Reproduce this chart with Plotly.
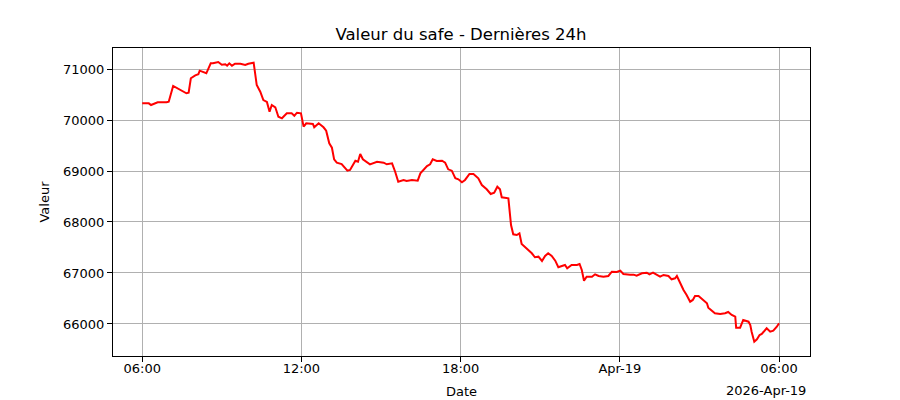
import plotly.graph_objects as go
import pandas as pd

start_time = "2026-04-18 06:00"
minutes = [0, 15, 20, 35, 55, 60, 70, 85, 100, 105, 110, 120, 127, 130, 145, 155, 160, 172, 180, 188,
           192, 197, 203, 210, 222, 233, 240, 252, 259, 267, 274, 282, 288, 293, 301, 308, 316, 327, 338, 344,
           350, 359, 365, 371, 376, 386, 389, 399, 410, 416, 423, 429, 434, 440, 451, 457, 464, 470, 482, 488,
           493, 499, 508, 515, 531, 546, 553, 565, 572, 579, 591, 598, 610, 623, 629, 636, 644, 651, 657, 666,
           678, 685, 692, 700, 708, 715, 723, 730, 740, 749, 760, 768, 779, 788, 796, 803, 809, 813, 828, 834,
           839, 847, 853, 858, 866, 873, 881, 888, 896, 904, 911, 918, 926, 934, 941, 949, 956, 961, 971, 983,
           989, 994, 999, 1005, 1017, 1024, 1032, 1043, 1054, 1062, 1073, 1081, 1088, 1103, 1111, 1118, 1130, 1141, 1147, 1155,
           1164, 1171, 1179, 1190, 1197, 1205, 1209, 1216, 1224, 1231, 1239, 1245, 1250, 1258, 1269, 1277, 1280, 1288, 1295, 1307,
           1318, 1325, 1333, 1341, 1343, 1352, 1359, 1371, 1375, 1378, 1384, 1390, 1396, 1401, 1408, 1412, 1420, 1427, 1435, 1440]
values = [70327, 70327, 70294, 70347, 70347, 70359, 70667, 70602, 70524, 70535, 70818, 70876, 70896, 70967, 70916, 71112, 71112, 71137, 71084, 71092,
          71065, 71112, 71065, 71104, 71104, 71078, 71104, 71124, 70686, 70555, 70392, 70353, 70163, 70294, 70249, 70065, 70033, 70131, 70131, 70084,
          70143, 70131, 69869, 69935, 69935, 69922, 69857, 69935, 69857, 69790, 69543, 69457, 69229, 69163, 69137, 69084, 69006, 69020, 69202, 69182,
          69333, 69229, 69182, 69131, 69182, 69163, 69131, 69151, 68986, 68790, 68824, 68804, 68824, 68810, 68955, 69020, 69098, 69131, 69229, 69196,
          69202, 69163, 69033, 69006, 68857, 68837, 68778, 68824, 68941, 68941, 68857, 68725, 68641, 68549, 68575, 68692, 68641, 68484, 68465, 67941,
          67759, 67745, 67778, 67569, 67504, 67437, 67386, 67308, 67320, 67235, 67333, 67386, 67333, 67241, 67112, 67137, 67157, 67092, 67157, 67157,
          67176, 67059, 66849, 66927, 66927, 66974, 66941, 66927, 66941, 67025, 67020, 67045, 66980, 66967, 66967, 66947, 66994, 67006, 66974, 67006,
          66967, 66927, 66961, 66941, 66876, 66896, 66941, 66810, 66667, 66569, 66437, 66471, 66549, 66549, 66457, 66406, 66320, 66261, 66210, 66196,
          66210, 66235, 66176, 66143, 65927, 65927, 66078, 66045, 65980, 65849, 65653, 65700, 65784, 65804, 65882, 65916, 65849, 65869, 65947, 66014]

x_tick_vals = ["2026-04-18 06:00", "2026-04-18 12:00", "2026-04-18 18:00", "2026-04-19 00:00", "2026-04-19 06:00"]
x_tick_text = ["06:00", "12:00", "18:00", "Apr-19", "06:00"]
y_tick_vals = [66000, 67000, 68000, 69000, 70000, 71000]
y_tick_text = ["66000", "67000", "68000", "69000", "70000", "71000"]

base = pd.Timestamp(start_time)
times = base + pd.to_timedelta(minutes, unit="min")

FONT = "DejaVu Sans"
# the page body adds an 8px offset, so the figure is laid out 8px up-left
OFF = 8

fig = go.Figure()
fig.add_trace(go.Scatter(x=times, y=values, mode="lines",
                         line=dict(color="#ff0000", width=2), showlegend=False,
                         hoverinfo="skip"))

fig.update_layout(
    width=900, height=400,
    margin=dict(l=113 - OFF, r=900 - 810 + OFF, t=48 - OFF, b=400 - 356 + OFF, autoexpand=False),
    paper_bgcolor="white", plot_bgcolor="white",
    font=dict(family=FONT, size=13, color="black"),
    title=dict(text="Valeur du safe - Dernières 24h", x=((461 - OFF) / 900), xanchor="center",
               y=1 - (34 - OFF) / 400, yanchor="middle", font=dict(family=FONT, size=16.5, color="black")),
)
fig.update_xaxes(
    automargin=False,
    range=[base - pd.Timedelta(minutes=66), base + pd.Timedelta(minutes=1510)],
    tickvals=x_tick_vals, ticktext=x_tick_text,
    ticks="outside", ticklen=5, tickcolor="black", tickwidth=1,
    ticklabelstandoff=-5,
    showline=True, linecolor="black", linewidth=1, mirror=True,
    showgrid=True, gridcolor="#b0b0b0", gridwidth=1, zeroline=False,
    tickfont=dict(family=FONT, size=13),
    title=dict(text="Date", font=dict(family=FONT, size=13), standoff=12),
)
fig.update_yaxes(
    automargin=False,
    range=[65372, 71412],
    tickvals=y_tick_vals, ticktext=y_tick_text,
    ticks="outside", ticklen=5, tickcolor="black", tickwidth=1,
    showline=True, linecolor="black", linewidth=1, mirror=True,
    showgrid=True, gridcolor="#b0b0b0", gridwidth=1, zeroline=False,
    tickfont=dict(family=FONT, size=13),
    title=dict(text="Valeur", font=dict(family=FONT, size=13), standoff=10),
)
fig.add_annotation(text="2026-Apr-19", xref="paper", yref="paper",
                   x=(766 - 113) / 697, y=(356 - 390) / 308, xanchor="center", yanchor="middle",
                   showarrow=False, font=dict(family=FONT, size=13, color="black"))

fig.write_html("out.html")
